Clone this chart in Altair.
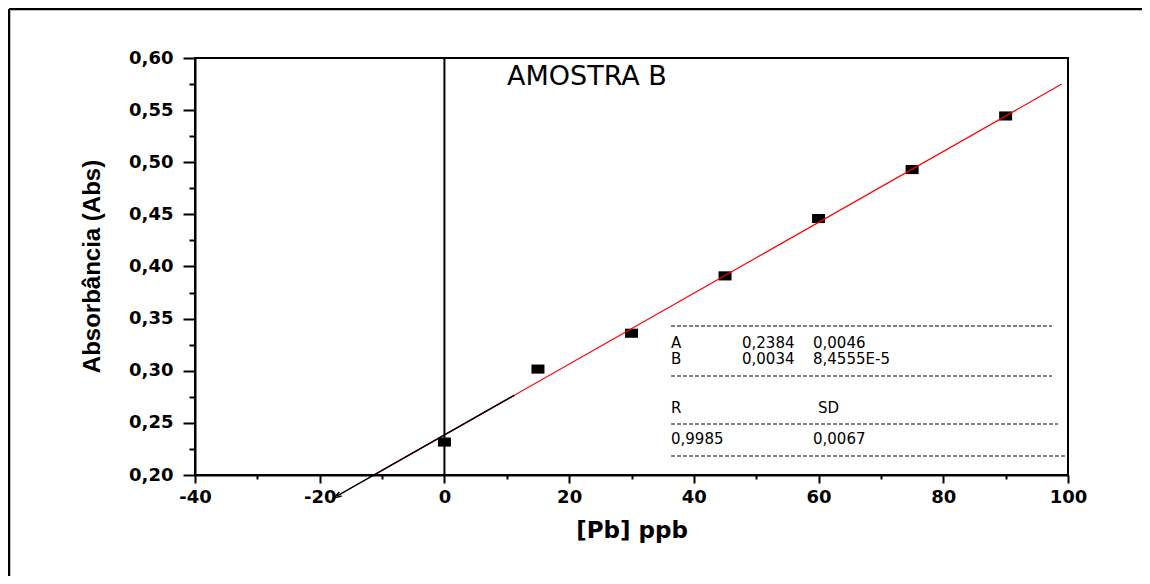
import altair as alt
import pandas as pd

# ---- data ----
conc = [0, 15, 30, 45, 60, 75, 90]
absorb = [0.2316, 0.3016, 0.3360, 0.3910, 0.4460, 0.4930, 0.5444]

fit_A = 0.2384
fit_B = 0.0034
red_x = [-40, 99]          # fitted line span
black_x = [-17.2, 11.2]    # extrapolation segment span

x_ticks = list(range(-40, 101, 10))
y_ticks = [round(0.2 + 0.025 * i, 3) for i in range(17)]

table_rows = ["A", "B", "R", "0,9985"]
table_col2 = ["0,2384", "0,0034", "SD", "0,0067"]
table_col3 = ["0,0046", "8,4555E-5", "", ""]

W, H = 873, 417
OX, OY = 195, 58   # page position of the plot origin
TOTAL_W, TOTAL_H = 1134, 568

pts = pd.DataFrame({"x": conc, "y": absorb})
red = pd.DataFrame({"x": red_x, "y": [fit_A + fit_B * v for v in red_x]})
blk = pd.DataFrame({"x": black_x, "y": [fit_A + fit_B * v for v in black_x]})

xs = alt.Scale(domain=[-40, 100], nice=False, zero=False)
ys = alt.Scale(domain=[0.2, 0.6], nice=False, zero=False)

x_axis = alt.Axis(
    values=x_ticks,
    labelExpr="round(datum.value) % 20 === 0 ? '' + datum.value : ''",
    tickSize={"condition": {"test": "round(datum.value) % 20 === 0", "value": 8}, "value": 4},
    title="[Pb] ppb",
    titleX=W / 2, titleY=55, titleBaseline="middle", titleAlign="center",
    titleFont="DejaVu Sans", titleFontSize=23, titleFontWeight="bold",
    labelFont="DejaVu Sans", labelFontSize=18, labelFontWeight="bold",
    labelPadding=5, labelFlush=False, grid=False,
    domainColor="black", domainWidth=2, tickColor="black", tickWidth=2,
    labelColor="black", titleColor="black",
)
y_axis = alt.Axis(
    values=y_ticks,
    labelExpr="round(datum.value * 1000) % 50 === 0 ? replace(format(datum.value, '.2f'), '.', ',') : ''",
    tickSize={"condition": {"test": "round(datum.value * 1000) % 50 === 0", "value": 12}, "value": 6},
    title="Absorbância (Abs)",
    titleX=-103, titleY=208, titleAngle=270, titleBaseline="middle", titleAlign="center",
    titleFont="Liberation Sans", titleFontSize=24, titleFontWeight="bold",
    labelFont="DejaVu Sans", labelFontSize=18, labelFontWeight="bold",
    labelPadding=10, labelFlush=False, grid=False,
    domainColor="black", domainWidth=2, tickColor="black", tickWidth=2,
    labelColor="black", titleColor="black",
)

X = alt.X("x:Q", scale=xs, axis=x_axis)
Y = alt.Y("y:Q", scale=ys, axis=y_axis)

points = alt.Chart(pts).mark_point(
    shape="M-1,-0.7L1,-0.7L1,0.7L-1,0.7Z", size=169, filled=True, color="black", opacity=1
).encode(x=X, y=Y)

red_line = alt.Chart(red).mark_line(color="#ff0000", strokeWidth=1.2, clip=True).encode(x=X, y=Y)
black_line = alt.Chart(blk).mark_line(color="black", strokeWidth=1.5, clip=False).encode(x=X, y=Y)
arrow = alt.Chart(blk.iloc[[0]]).mark_point(
    shape="M1,-0.6L-1,0L1,0.6", size=60, filled=False, color="black", strokeWidth=1.5,
    angle=330, opacity=1, clip=False
).encode(x=X, y=Y)

vline = alt.Chart(pd.DataFrame({"x": [0]})).mark_rule(color="black", strokeWidth=2).encode(
    x=X, y=alt.value(0), y2=alt.value(H),
)

title_txt = alt.Chart(pd.DataFrame({"t": ["AMOSTRA B"]})).mark_text(
    font="DejaVu Sans", fontSize=27, align="left", baseline="middle", color="black"
).encode(text="t:N", x=alt.value(507 - OX), y=alt.value(77 - OY))

# table text (pixel layout)
row_y = [343, 359, 408, 439]
tbl = []
for i in range(4):
    tbl.append({"t": table_rows[i], "px": 671 - OX, "py": row_y[i] - OY})
    c2x = 742 if i < 2 else (818 if i == 2 else 813)
    tbl.append({"t": table_col2[i], "px": c2x - OX, "py": row_y[i] - OY})
    if table_col3[i]:
        tbl.append({"t": table_col3[i], "px": 813 - OX, "py": row_y[i] - OY})
tbl_df = pd.DataFrame(tbl)
table_text = alt.Chart(tbl_df).mark_text(
    font="DejaVu Sans", fontSize=15, align="left", baseline="middle", color="black"
).encode(text="t:N", x=alt.X("px:Q", scale=None), y=alt.Y("py:Q", scale=None))

dash_df = pd.DataFrame({
    "x1": [671 - OX] * 4,
    "x2": [1052 - OX, 1052 - OX, 1058 - OX, 1065 - OX],
    "yy": [326 - OY, 376 - OY, 424 - OY, 456 - OY],
})
dashes = alt.Chart(dash_df).mark_rule(color="black", strokeWidth=1, strokeDash=[4, 2]).encode(
    x=alt.X("x1:Q", scale=None), x2="x2:Q", y=alt.Y("yy:Q", scale=None)
)

# outer frame: only left and top edges are visible in the reference
right_edge = TOTAL_W - (OX - 8)
bottom_edge = TOTAL_H - (OY - 8)
frame_left = alt.Chart(pd.DataFrame({"a": [0]})).mark_rule(
    color="black", strokeWidth=2.5, clip=False
).encode(x=alt.value(9 - OX), y=alt.value(9 - OY), y2=alt.value(bottom_edge))
frame_top = alt.Chart(pd.DataFrame({"a": [0]})).mark_rule(
    color="black", strokeWidth=2.5, clip=False
).encode(y=alt.value(9 - OY), x=alt.value(9 - OX), x2=alt.value(right_edge))

chart = alt.layer(
    points, red_line, black_line, arrow, vline, title_txt, table_text, dashes,
    frame_left, frame_top
).properties(
    width=W, height=H,
    background="white",
    autosize=alt.AutoSizeParams(type="none"),
    padding={"left": OX - 8, "top": OY - 8, "right": right_edge - W, "bottom": bottom_edge - H},
).configure_view(
    stroke="black", strokeWidth=2
)

chart.save("out.html", embed_options={"renderer": "svg", "actions": False})
